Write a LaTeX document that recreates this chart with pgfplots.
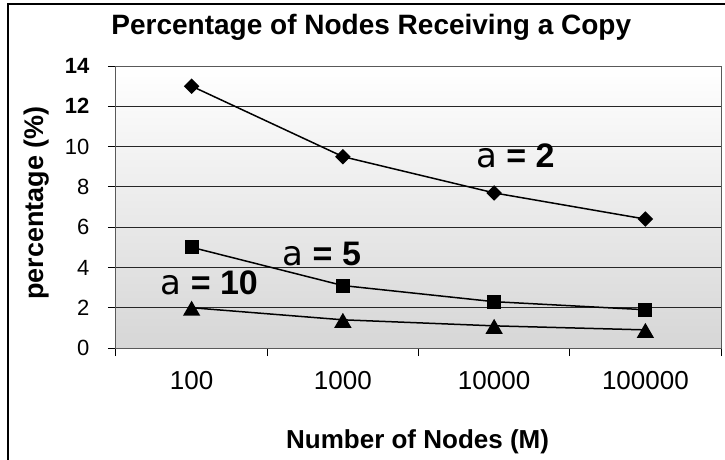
\documentclass[border=0pt]{standalone}
\usepackage{fontspec}
\setmainfont{Liberation Sans}
\newfontfamily\dejavu{DejaVu Sans}
\usepackage{pgfplots}
\pgfplotsset{compat=1.18}
\begin{document}
\begin{tikzpicture}[x=1pt,y=1pt]
\useasboundingbox (-116,-111) rectangle (609,348);
\draw[line width=2pt] (-108,-112) -- (-108,344.5) -- (610,344.5);
\begin{axis}[
  at={(0,0)}, anchor=south west,
  scale only axis, width=605pt, height=282pt,
  xmin=-0.5, xmax=3.5, ymin=0, ymax=14,
  axis background/.style={shade, top color=white, bottom color=black!16},
  x axis line style={black, line width=1pt},
  y axis line style={black!65, line width=1pt},
  ymajorgrids, major grid style={black!85, line width=0.9pt},
  tick align=outside, tick pos=left,
  major tick length=8pt,
  every tick/.style={black, line width=1pt},
  ytick={0,2,4,6,8,10,12,14},
  yticklabels={0,2,4,6,8,10,\textbf{12},\textbf{14}},
  every y tick label/.append style={font=\fontsize{22}{22}\selectfont, anchor=east, xshift=-15pt},
  xtick={-0.5,0.5,1.5,2.5,3.5},
  xticklabels={},
  extra x ticks={0,1,2,3},
  extra x tick labels={100,1000,10000,100000},
  extra x tick style={major tick length=0pt, grid=none,
    xticklabel style={font=\fontsize{26}{26}\selectfont, anchor=base, yshift=-41pt}},
  /pgf/number format/assume math mode=true,
  title={\textbf{Percentage of Nodes Receiving a Copy}},
  title style={font=\fontsize{28}{28}\selectfont, at={(axis description cs:0.422,1.090)}, anchor=base},
  xlabel={\textbf{Number of Nodes (M)}},
  xlabel style={font=\fontsize{26}{26}\selectfont, at={(axis description cs:0.4985,-0.358)}, anchor=base},
  ylabel={\textbf{percentage (\%)}},
  ylabel style={font=\fontsize{27}{27}\selectfont, at={(axis description cs:-0.1306,0.514)}, rotate=0, anchor=center},
  every axis plot/.append style={black, line width=1.5pt},
]
\addplot[mark=diamond*, mark size=6.7, mark options={xscale=1.33}] coordinates {(0,13.0) (1,9.5) (2,7.7) (3,6.4)};
\addplot[mark=square*, mark size=6.2] coordinates {(0,5.0) (1,3.1) (2,2.3) (3,1.9)};
\addplot[mark=triangle*, mark size=8.5, mark options={yshift=-3pt}] coordinates {(0,2.0) (1,1.4) (2,1.1) (3,0.9)};
\node[font=\fontsize{34}{34}\selectfont, anchor=center] at (axis cs:2.14,9.53) {{\dejavu a} \textbf{= 2}};
\node[font=\fontsize{34}{34}\selectfont, anchor=center] at (axis cs:0.86,4.64) {{\dejavu a} \textbf{= 5}};
\node[font=\fontsize{34}{34}\selectfont, anchor=center] at (axis cs:0.116,3.24) {{\dejavu a} \textbf{= 10}};
\end{axis}
\end{tikzpicture}
\end{document}
